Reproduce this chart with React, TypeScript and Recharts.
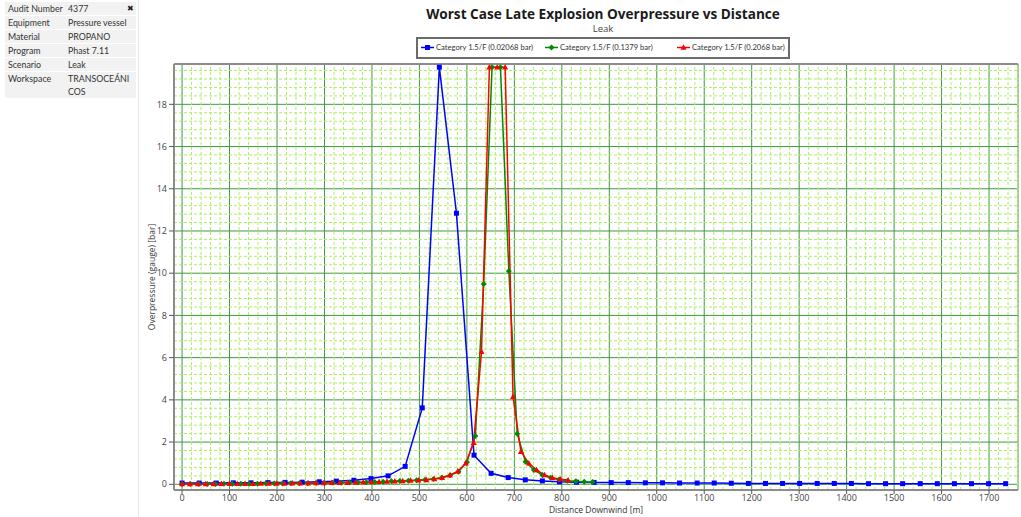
import React from 'react';
import { LineChart, Line, XAxis, YAxis, CartesianGrid, ReferenceLine } from 'recharts';

const FONT = "'Segoe UI', 'Open Sans', sans-serif";
const SMALL_FONT = "Lato, 'Open Sans', sans-serif";

const infoLabels = ['Audit Number', 'Equipment', 'Material', 'Program', 'Scenario', 'Workspace'];
const infoValues = ['4377', 'Pressure vessel', 'PROPANO', 'Phast 7.11', 'Leak', 'TRANSOCEÁNICOS'];

const seriesNames = [
  'Category 1.5/F (0.02068 bar)',
  'Category 1.5/F (0.1379 bar)',
  'Category 1.5/F (0.2068 bar)',
];

// 0.02068 bar
const blueX = [
  0, 36, 72, 108, 145, 181, 217, 253, 289, 325, 362, 398, 434, 470, 506, 542, 578, 615, 651, 687,
  723, 759, 795, 831, 868, 904, 940, 976, 1012, 1048, 1085, 1121, 1157, 1193, 1229, 1265, 1301,
  1338, 1374, 1410, 1446, 1482, 1518, 1555, 1591, 1627, 1663, 1699, 1735,
];
const blueY = [
  0.06, 0.06, 0.06, 0.07, 0.07, 0.08, 0.09, 0.1, 0.12, 0.15, 0.19, 0.27, 0.4, 0.85, 3.62, 19.76,
  12.84, 1.38, 0.52, 0.32, 0.21, 0.16, 0.12, 0.1, 0.09, 0.08, 0.08, 0.07, 0.07, 0.06, 0.06, 0.06,
  0.05, 0.04, 0.04, 0.04, 0.04, 0.04, 0.04, 0.04, 0.03, 0.03, 0.03, 0.03, 0.03, 0.03, 0.03, 0.03, 0.03,
];

// 0.1379 bar
const greenX = [
  0, 17.6, 35.3, 53, 70.6, 88.2, 105.9, 123.6, 141.2, 158.8, 176.5, 194.2, 211.8, 229.4, 247.1,
  264.8, 282.4, 300, 317.7, 335.4, 353, 370.6, 388.3, 406, 423.6, 441.2, 458.9, 476.6, 494.2, 511.8,
  529.5, 547.2, 564.8, 582.4, 600.1, 617.8, 635.4, 653, 670.7, 688.4, 706, 723.6, 741.3, 759, 776.6,
  794.2, 811.9, 829.6, 847.2, 864.8,
];
const greenY = [
  0.02, 0.02, 0.02, 0.02, 0.02, 0.03, 0.03, 0.03, 0.03, 0.03,
  0.04, 0.04, 0.04, 0.05, 0.05, 0.05, 0.06, 0.06, 0.07, 0.07,
  0.08, 0.09, 0.1, 0.11, 0.12, 0.14, 0.16, 0.17, 0.19, 0.21,
  0.25, 0.31, 0.43, 0.6, 1.05, 2.29, 9.49, 19.76, 19.76, 10.1,
  2.4, 1.07, 0.68, 0.44, 0.31, 0.23, 0.17, 0.14, 0.12, 0.11,
];

// 0.2068 bar
const redX = [
  0, 16.6, 33.2, 49.8, 66.4, 83, 99.6, 116.2, 132.8, 149.4, 166, 182.6, 199.2, 215.8, 232.4, 249,
  265.6, 282.2, 298.8, 315.4, 332, 348.6, 365.2, 381.8, 398.4, 415, 431.6, 448.2, 464.8, 481.4, 498,
  514.6, 531.2, 547.8, 564.4, 581, 597.6, 614.2, 630.8, 647.4, 664, 680.6, 697.2, 713.8, 730.4, 747,
  763.6, 780.2, 796.8, 813.4,
];
const redY = [
  0.02, 0.02, 0.02, 0.02, 0.02, 0.03, 0.03, 0.03, 0.03, 0.03,
  0.04, 0.04, 0.04, 0.04, 0.05, 0.05, 0.05, 0.06, 0.06, 0.07,
  0.07, 0.08, 0.09, 0.1, 0.11, 0.12, 0.13, 0.15, 0.16, 0.18,
  0.19, 0.21, 0.25, 0.31, 0.43, 0.62, 1.0, 1.97, 6.28, 19.76,
  19.76, 19.76, 4.15, 1.55, 1.0, 0.68, 0.44, 0.31, 0.24, 0.2,
];

const xTicks = [0, 100, 200, 300, 400, 500, 600, 700, 800, 900, 1000, 1100, 1200, 1300, 1400, 1500, 1600, 1700];
const yTicks = [0, 2, 4, 6, 8, 10, 12, 14, 16, 18];
const xDomain = [-17, 1761];
const yDomain = [-0.27, 19.91];

// minor grid every 20 m / 0.4 bar
const minorX: number[] = [];
for (let v = 0; v <= 1760; v += 20) minorX.push(v);
const minorY: number[] = [];
for (let k = 0; k <= 49; k++) minorY.push(Math.round(k * 0.4 * 10) / 10);
const minorXLines = minorX.filter((v) => v % 100 !== 0);
const minorYLines = minorY.filter((v) => Math.round(v * 10) % 20 !== 0);

const BLUE = '#0000ff';
const GREEN = '#008a00';
const RED = '#ff0000';
const AXIS = '#8c8c8c';
const MINOR = '#aeee6a';

const toPoints = (xs: number[], ys: number[]) => xs.map((x, i) => ({ x, y: ys[i] }));
const blueData = toPoints(blueX, blueY);
const greenData = toPoints(greenX, greenY);
const redData = toPoints(redX, redY);

const squareDot = (props: any) => {
  const { cx, cy, index } = props;
  return <rect key={'b' + index} x={cx - 2.5} y={cy - 2.5} width={5} height={5} fill={BLUE} />;
};
const diamondDot = (props: any) => {
  const { cx, cy, index } = props;
  return (
    <polygon key={'g' + index} points={`${cx},${cy - 3} ${cx + 3},${cy} ${cx},${cy + 3} ${cx - 3},${cy}`} fill={GREEN} />
  );
};
const triangleDot = (props: any) => {
  const { cx, cy, index } = props;
  return (
    <polygon key={'r' + index} points={`${cx},${cy - 3.2} ${cx + 3},${cy + 2.3} ${cx - 3},${cy + 2.3}`} fill={RED} />
  );
};

function InfoPanel() {
  return (
    <div style={{ position: 'absolute', left: 0, top: 0, width: 138, height: 517, borderRight: '1px solid #e6e6e6' }}>
      <div style={{ position: 'absolute', left: 5, top: 2, width: 131, fontFamily: SMALL_FONT }}>
        {infoLabels.map((label, i) => (
          <div
            key={label}
            style={{
              display: 'flex',
              background: '#f2f2f2',
              marginBottom: 1,
              fontSize: 8.8,
              color: '#333',
              lineHeight: '13px',
            }}
          >
            <div style={{ width: 60, paddingLeft: 3, whiteSpace: 'nowrap' }}>{label}</div>
            <div style={{ width: 64, wordBreak: 'break-all' }}>{infoValues[i]}</div>
          </div>
        ))}
      </div>
      <div style={{ position: 'absolute', left: 127, top: 2, fontSize: 8, color: '#222' }}>✖</div>
    </div>
  );
}

function LegendBox() {
  const markers = [
    <rect x={4} y={2} width={5} height={5} fill={BLUE} />,
    <polygon points="6.5,1.5 9.5,4.5 6.5,7.5 3.5,4.5" fill={GREEN} />,
    <polygon points="6.5,1.3 9.5,6.8 3.5,6.8" fill={RED} />,
  ];
  const colors = [BLUE, GREEN, RED];
  const lefts = [3, 127, 259];
  return (
    <div
      style={{
        position: 'absolute',
        left: 416,
        top: 37,
        width: 370,
        height: 18,
        border: '2px solid #6b6b6b',
        background: '#fff',
      }}
    >
      {seriesNames.map((name, i) => (
        <div
          key={name}
          style={{
            position: 'absolute',
            left: lefts[i],
            top: 3,
            display: 'flex',
            alignItems: 'center',
            fontSize: 7.6,
            lineHeight: '11px',
            fontFamily: SMALL_FONT,
            color: '#333',
            whiteSpace: 'nowrap',
          }}
        >
          <svg width={13} height={9} style={{ marginRight: 2 }}>
            <line x1={0} y1={4.5} x2={13} y2={4.5} stroke={colors[i]} strokeWidth={1.5} />
            {markers[i]}
          </svg>
          <span>{name}</span>
        </div>
      ))}
    </div>
  );
}

export default function App() {
  return (
    <div
      style={{
        position: 'absolute',
        left: 0,
        top: 0,
        width: 1021,
        height: 517,
        background: '#fff',
        overflow: 'hidden',
        fontFamily: FONT,
      }}
    >
      <InfoPanel />
      <div style={{ position: 'absolute', left: 403, width: 400, top: 4, textAlign: 'center', fontSize: 13.6, fontWeight: 700, color: '#1a1a1a' }}>
        Worst Case Late Explosion Overpressure vs Distance
      </div>
      <div style={{ position: 'absolute', left: 403, width: 400, top: 22, textAlign: 'center', fontSize: 9.5, color: '#444' }}>
        Leak
      </div>
      <LegendBox />
      <div style={{ position: 'absolute', left: 140, top: 0 }}>
        <LineChart width={881} height={517} margin={{ top: 64, right: 3, bottom: 0, left: 4 }}>
          {minorXLines.map((v) => (
            <ReferenceLine key={'mx' + v} x={v} stroke={MINOR} strokeDasharray="3 2" strokeWidth={1} />
          ))}
          {minorYLines.map((v) => (
            <ReferenceLine key={'my' + v} y={v} stroke={MINOR} strokeDasharray="3 2" strokeWidth={1} />
          ))}
          <CartesianGrid stroke="#3f9a3f" strokeWidth={1} />
          <XAxis
            xAxisId="minor"
            type="number"
            dataKey="x"
            domain={xDomain}
            allowDataOverflow
            ticks={minorX}
            interval={0}
            tick={false}
            tickSize={3}
            tickLine={{ stroke: '#555' }}
            axisLine={false}
            height={0}
          />
          <XAxis
            type="number"
            dataKey="x"
            domain={xDomain}
            allowDataOverflow
            ticks={xTicks}
            interval={0}
            tickSize={4}
            tickMargin={1}
            tick={{ fill: '#444', fontSize: 9, fontFamily: FONT }}
            tickLine={{ stroke: '#555' }}
            axisLine={{ stroke: AXIS, strokeWidth: 2 }}
            height={27}
            label={{ value: 'Distance Downwind [m]', position: 'insideBottom', offset: 4, fill: '#333', fontSize: 8.5, fontFamily: FONT }}
          />
          <YAxis
            yAxisId="minor"
            type="number"
            domain={yDomain}
            allowDataOverflow
            ticks={minorY}
            interval={0}
            tick={false}
            tickSize={3}
            tickLine={{ stroke: '#555' }}
            axisLine={false}
            width={0}
          />
          <YAxis
            type="number"
            domain={yDomain}
            allowDataOverflow
            ticks={yTicks}
            interval={0}
            tickSize={5}
            tick={{ fill: '#444', fontSize: 9, fontFamily: FONT }}
            tickLine={{ stroke: '#555' }}
            axisLine={{ stroke: AXIS, strokeWidth: 2 }}
            width={30}
            label={{
              value: 'Overpressure (gauge) [bar]',
              angle: -90,
              position: 'insideLeft',
              offset: 8,
              fill: '#333',
              fontSize: 8.5,
              fontFamily: FONT,
              style: { textAnchor: 'middle' },
            }}
          />
          <ReferenceLine y={yDomain[1]} stroke={AXIS} strokeWidth={2} />
          <Line data={blueData} dataKey="y" stroke={BLUE} strokeWidth={1.5} dot={squareDot} activeDot={false} isAnimationActive={false} />
          <Line data={greenData} dataKey="y" stroke={GREEN} strokeWidth={1.5} dot={diamondDot} activeDot={false} isAnimationActive={false} />
          <Line data={redData} dataKey="y" stroke={RED} strokeWidth={1.5} dot={triangleDot} activeDot={false} isAnimationActive={false} />
        </LineChart>
      </div>
    </div>
  );
}
